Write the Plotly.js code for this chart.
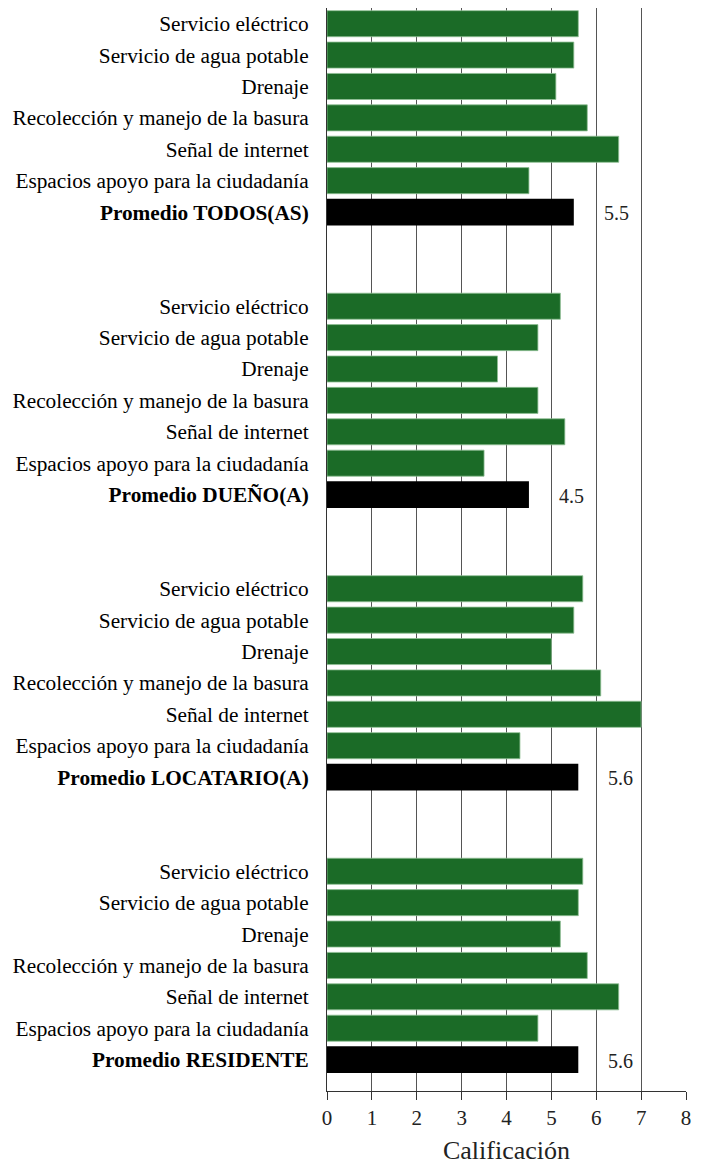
<!DOCTYPE html>
<html>
<head>
<meta charset="utf-8">
<script src="https://cdn.plot.ly/plotly-3.0.1.min.js"></script>
<style>
html,body{margin:0;padding:0;background:#fff;}
#chart{width:702px;height:1165px;}
</style>
</head>
<body>
<div id="chart"></div>
<script>
const groups = ['TODOS(AS)', 'DUEÑO(A)', 'LOCATARIO(A)', 'RESIDENTE'];
const items = ['Servicio eléctrico', 'Servicio de agua potable', 'Drenaje',
  'Recolección y manejo de la basura', 'Señal de internet', 'Espacios apoyo para la ciudadanía'];
const valTodos = [5.6, 5.5, 5.1, 5.8, 6.5, 4.5];
const valDueno = [5.2, 4.7, 3.8, 4.7, 5.3, 3.5];
const valLocatario = [5.7, 5.5, 5.0, 6.1, 7.0, 4.3];
const valResidente = [5.7, 5.6, 5.2, 5.8, 6.5, 4.7];
const promedios = [5.5, 4.5, 5.6, 5.6];
const xTicks = [0, 1, 2, 3, 4, 5, 6, 7, 8];

const groupValues = [valTodos, valDueno, valLocatario, valResidente];
const rowsPerGroup = items.length + 1;
const gapRows = 2;

const greenX = [], greenY = [];
const blackX = [], blackY = [];
const tickVals = [], tickText = [];
const annotations = [];
const font = '"Liberation Serif", "Times New Roman", serif';

groups.forEach((g, gi) => {
  const base = gi * (rowsPerGroup + gapRows);
  groupValues[gi].forEach((v, j) => {
    greenX.push(v); greenY.push(base + j);
    tickVals.push(base + j); tickText.push(items[j]);
  });
  const py = base + items.length;
  blackX.push(promedios[gi]); blackY.push(py);
  tickVals.push(py); tickText.push('<b>Promedio ' + g + '</b>');
  annotations.push({
    x: promedios[gi], y: py, xref: 'x', yref: 'y',
    text: promedios[gi].toFixed(1), showarrow: false,
    xanchor: 'left', xshift: 28, yshift: -1,
    font: {family: font, size: 20, color: '#222'}
  });
});

const totalRows = groups.length * rowsPerGroup + (groups.length - 1) * gapRows;

const traces = [
  {type: 'bar', orientation: 'h', x: greenX, y: greenY, width: 0.83,
   marker: {color: '#1b6b27', line: {color: '#8fbf94', width: 0.8}},
   hoverinfo: 'x'},
  {type: 'bar', orientation: 'h', x: blackX, y: blackY, width: 0.85,
   marker: {color: '#000000'}, hoverinfo: 'x'}
];

const layout = {
  width: 702, height: 1165,
  margin: {l: 327, r: 16, t: 8, b: 74, pad: 0},
  paper_bgcolor: '#fff', plot_bgcolor: '#fff',
  showlegend: false,
  barmode: 'overlay',
  font: {family: font, color: '#000'},
  xaxis: {
    range: [0, 8], tickvals: xTicks, ticktext: xTicks.map(String),
    ticks: 'outside', ticklen: 8, tickcolor: '#333', tickwidth: 1,
    showline: true, linecolor: '#333', linewidth: 1,
    showgrid: true, gridcolor: '#555', gridwidth: 1,
    zeroline: false,
    tickfont: {family: font, size: 21, color: '#222'},
    title: {text: 'Calificación', font: {family: font, size: 26, color: '#222'}, standoff: 13},
    automargin: false, fixedrange: true
  },
  yaxis: {
    range: [totalRows - 0.5 + 0.5, -0.5],
    tickvals: tickVals, ticktext: tickText,
    ticks: 'outside', ticklen: 13, tickcolor: 'rgba(0,0,0,0)',
    showgrid: false, zeroline: false,
    showline: true, linecolor: '#333', linewidth: 1,
    tickfont: {family: font, size: 21.3, color: '#000'},
    automargin: false, fixedrange: true
  },
  annotations: annotations
};

Plotly.newPlot('chart', traces, layout, {displayModeBar: false, staticPlot: true});
</script>
</body>
</html>
